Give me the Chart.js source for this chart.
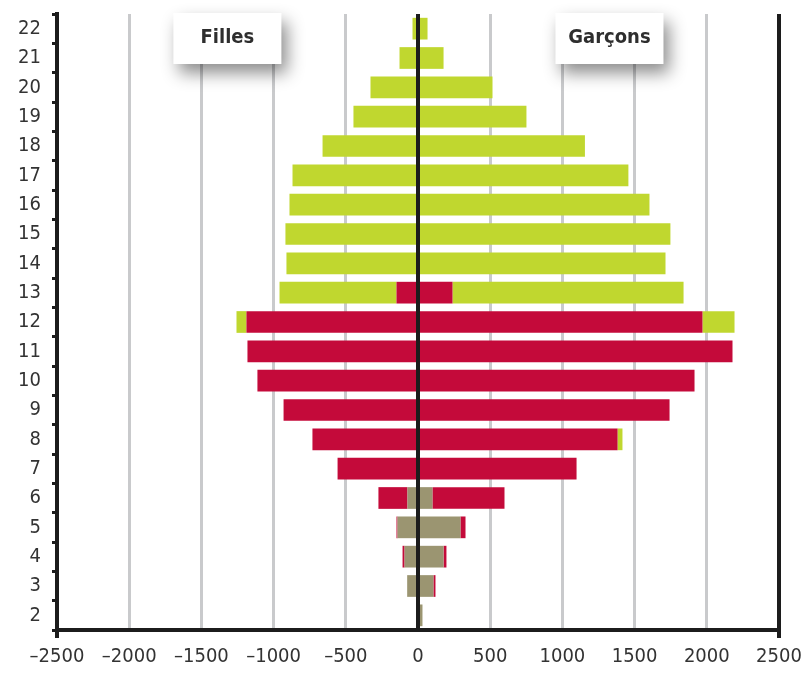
<!DOCTYPE html>
<html>
<head>
<meta charset="utf-8">
<script src="https://cdn.jsdelivr.net/npm/chart.js@4"></script>
<style>
  html, body { margin: 0; padding: 0; background: #fff; }
  #wrap { width: 807px; height: 677px; }
</style>
</head>
<body>
<div id="wrap"><canvas id="pyramide"></canvas></div>
<script>
// Âges (axe vertical)
const ages = [2, 3, 4, 5, 6, 7, 8, 9, 10, 11, 12, 13, 14, 15, 16, 17, 18, 19, 20, 21, 22];

// Filles (valeurs négatives, côté gauche)
const fillesGris  = [0, -75, -93, -142, -73, 0, 0, 0, 0, 0, 0, 0, 0, 0, 0, 0, 0, 0, 0, 0, 0];
const fillesRouge = [0, 0, -14, -7, -201, -557, -731, -931, -1112, -1181, -1188, -149, 0, 0, 0, 0, 0, 0, 0, 0, 0];
const fillesVert  = [0, 0, 0, 0, 0, 0, 0, 0, 0, 0, -69, -810, -911, -918, -890, -869, -661, -447, -329, -128, -38];

// Garçons (côté droit)
const garconsGris  = [31, 107, 177, 294, 100, 0, 0, 0, 0, 0, 0, 0, 0, 0, 0, 0, 0, 0, 0, 0, 0];
const garconsRouge = [0, 14, 20, 35, 499, 1098, 1382, 1742, 1915, 2178, 1970, 239, 0, 0, 0, 0, 0, 0, 0, 0, 0];
const garconsVert  = [0, 0, 0, 0, 0, 0, 34, 0, 0, 0, 222, 1600, 1714, 1748, 1603, 1457, 1156, 751, 516, 177, 66];

const xTicks = [-2500, -2000, -1500, -1000, -500, 0, 500, 1000, 1500, 2000, 2500];
const boites = [{ texte: 'Filles', x: -1320 }, { texte: 'Garçons', x: 1326 }];

const VERT = '#c0d72f', ROUGE = '#c40a3a', GRIS = '#9b9571';
const NOIR = '#1c1c1c', GRILLE = '#c9cacc';
const POLICE = '"DejaVu Sans Condensed", sans-serif';

function serie(label, data, couleur) {
  return { label: label, data: data, backgroundColor: couleur, borderWidth: 0, stack: 'p',
           barPercentage: 0.74, categoryPercentage: 1 };
}

// ligne du zéro par-dessus les barres + étiquettes Filles / Garçons
const extras = {
  id: 'extras',
  afterDatasetsDraw(chart) {
    const { ctx, chartArea, scales } = chart;
    const x0 = scales.x.getPixelForValue(0);
    ctx.save();
    ctx.strokeStyle = NOIR;
    ctx.lineWidth = 4;
    ctx.beginPath();
    ctx.moveTo(x0, chartArea.top);
    ctx.lineTo(x0, chartArea.bottom);
    ctx.stroke();

    boites.forEach(b => {
      const cx = scales.x.getPixelForValue(b.x);
      const w = 108, h = 51, top = chartArea.top - 1;
      ctx.save();
      ctx.shadowColor = 'rgba(0,0,0,0.45)';
      ctx.shadowBlur = 16;
      ctx.shadowOffsetX = 6;
      ctx.shadowOffsetY = 9;
      ctx.fillStyle = '#fff';
      ctx.fillRect(cx - w / 2, top, w, h);
      ctx.restore();
      ctx.fillStyle = '#2e2e2e';
      ctx.font = 'bold 20px ' + POLICE;
      ctx.textAlign = 'center';
      ctx.textBaseline = 'middle';
      ctx.fillText(b.texte, cx, top + h / 2 - 1);
    });
    ctx.restore();
  }
};

const ctx = document.getElementById('pyramide').getContext('2d');
const chart = new Chart(ctx, {
  type: 'bar',
  data: {
    labels: ages,
    datasets: [
      serie('Filles - gris', fillesGris, GRIS),
      serie('Filles - rouge', fillesRouge, ROUGE),
      serie('Filles - vert', fillesVert, VERT),
      serie('Garçons - gris', garconsGris, GRIS),
      serie('Garçons - rouge', garconsRouge, ROUGE),
      serie('Garçons - vert', garconsVert, VERT)
    ]
  },
  options: {
    indexAxis: 'y',
    responsive: true,
    maintainAspectRatio: false,
    animation: false,
    layout: { padding: { top: 14, right: 28, left: 0, bottom: 0 } },
    plugins: { legend: { display: false }, tooltip: { enabled: false } },
    scales: {
      x: {
        stacked: true,
        min: -2500,
        max: 2500,
        afterBuildTicks: axis => { axis.ticks = xTicks.map(v => ({ value: v })); },
        afterFit: axis => { axis.height = 47; axis.paddingLeft = 0; axis.paddingRight = 0; },
        ticks: {
          color: '#333',
          font: { family: POLICE, size: 20 },
          padding: 7,
          maxRotation: 0,
          callback: v => (v < 0 ? '\u2013' + Math.abs(v) : String(v))
        },
        grid: {
          color: c => (Math.abs(c.tick.value) === 2500 || c.tick.value === 0) ? NOIR : GRILLE,
          lineWidth: c => (Math.abs(c.tick.value) === 2500 || c.tick.value === 0) ? 4 : 3,
          tickColor: c => Math.abs(c.tick.value) === 2500 ? NOIR : 'rgba(0,0,0,0)',
          tickLength: 8
        },
        border: { display: true, color: NOIR, width: 4 }
      },
      y: {
        stacked: true,
        reverse: true,
        afterFit: axis => { axis.width = 57; axis.paddingTop = 0; axis.paddingBottom = 0; },
        ticks: {
          color: '#333',
          font: { family: POLICE, size: 20 },
          padding: 11,
          autoSkip: false
        },
        grid: {
          offset: true,
          drawOnChartArea: false,
          color: NOIR,
          lineWidth: 3,
          tickLength: 5
        },
        border: { display: true, color: NOIR, width: 4 }
      }
    }
  },
  plugins: [extras]
});
</script>
</body>
</html>
